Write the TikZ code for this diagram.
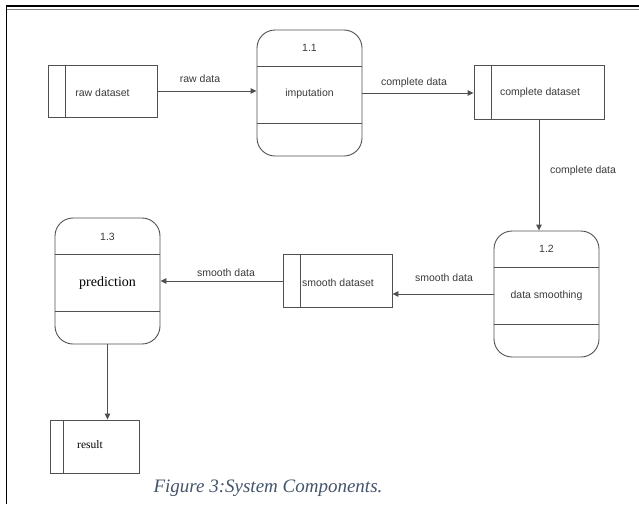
\documentclass[tikz,border=0pt]{standalone}
\usepackage{fontspec}
\setmainfont{Liberation Serif}
\newfontfamily\dsans{Liberation Sans}
\usetikzlibrary{arrows.meta,calc}
\definecolor{ln}{HTML}{505050}
\definecolor{tx}{HTML}{3A3A3A}
\definecolor{cap}{HTML}{44546A}
\tikzset{
  proc/.style={draw=ln,line width=0.9pt,rounded corners=18pt,minimum width=105pt,minimum height=126pt,inner sep=0pt},
  store/.style={draw=ln,line width=0.9pt,minimum height=53pt,inner sep=0pt},
  lbl/.style={text=tx,font=\dsans\fontsize{10.5}{12}\selectfont,inner sep=0pt},
  serif/.style={text=black,inner sep=0pt},
  flow/.style={draw=ln,line width=0.9pt,-{Triangle[length=6pt,width=5.5pt]}},
  divl/.style={draw=ln,line width=0.9pt},
  frame/.style={draw=black}
}
\begin{document}
\begin{tikzpicture}[x=1pt,y=-1pt]
\useasboundingbox (0,0) rectangle (639,504);
% frame
\draw[frame,line width=2pt] (6,6) -- (639,6);
\draw[frame,line width=0.6pt,draw=gray] (7,8.8) -- (639,8.8);
\draw[frame,line width=1.5pt] (6.5,5) -- (6.5,504);

% processes
\node[proc] (p1) at (309.5,93) {};
\node[proc] (p2) at (546.5,294) {};
\node[proc] (p3) at (107.5,281) {};
\foreach \p/\t in {p1/30,p2/231,p3/218}{
  \draw[divl] (\p.west |- 0,\t+36) -- (\p.east |- 0,\t+36);
  \draw[divl] (\p.west |- 0,\t+93) -- (\p.east |- 0,\t+93);
}
\node[lbl] (p1n) at (309.5,48) {1.1};
\node[lbl] (p1t) at (309.5,94) {imputation};
\node[lbl] (p2n) at (546.5,249) {1.2};
\node[lbl] (p2t) at (546.5,296) {data smoothing};
\node[lbl] (p3n) at (107.5,237) {1.3};
\node[serif,font=\fontsize{14}{16}\selectfont] (p3t) at (107.5,283) {prediction};

% stores
\node[store,minimum width=109pt,minimum height=52pt] (raw) at (102.5,91) {};
\draw[divl] (65,65) -- (65,117);
\node[lbl] (rawt) at (102.5,93) {raw dataset};
\node[store,minimum width=130pt,minimum height=54pt] (comp) at (539,92) {};
\draw[divl] (491,65) -- (491,119);
\node[lbl] (compt) at (540,93) {complete dataset};
\node[store,minimum width=109pt] (smooth) at (337.5,280.5) {};
\draw[divl] (300,254) -- (300,307);
\node[lbl] (smootht) at (338,283) {smooth dataset};
\node[store,minimum width=89pt] (res) at (94.5,446.5) {};
\draw[divl] (63,420) -- (63,473);
\node[serif,font=\fontsize{11.5}{13}\selectfont] (rest) at (90,445) {result};

% flows
\draw[flow] (raw.east) -- (raw.east -| p1.west);
\node[lbl] (l1) at (200,79) {raw data};
\draw[flow] (p1.east |- 0,93) -- (comp.west |- 0,93);
\node[lbl] (l2) at (414,83) {complete data};
\draw[flow] (comp.south -| 539,0) -- (p2.north -| 539,0);
\node[lbl] (l3) at (583,171) {complete data};
\draw[flow] (p2.west |- 0,294) -- (smooth.east |- 0,294);
\node[lbl] (l4) at (444,278) {smooth data};
\draw[flow] (smooth.west |- 0,281) -- (p3.east |- 0,281);
\node[lbl] (l5) at (226,273) {smooth data};
\draw[flow] (p3.south) -- (res.north -| p3.south);

% caption
\node[text=cap,font=\itshape\fontsize{19}{22}\selectfont,inner sep=0pt] (caption) at (268,488) {Figure 3:System Components.};
\end{tikzpicture}
\end{document}
